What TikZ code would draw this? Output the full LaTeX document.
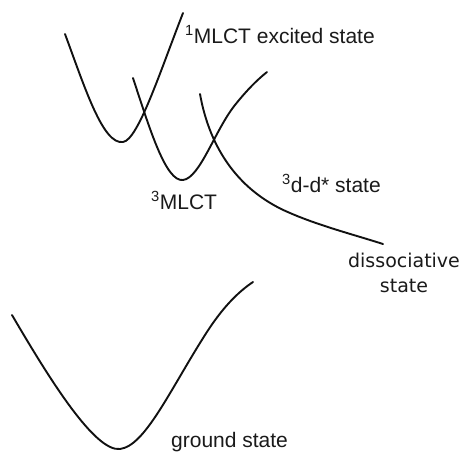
\documentclass[tikz,border=0pt]{standalone}
\usepackage{fontspec}
\setmainfont{Liberation Sans}
\newfontfamily\handfont{DejaVu Sans}
\usepackage{tikz}
\usepackage{xcolor}
\usetikzlibrary{positioning, calc}
\definecolor{cCurve}{HTML}{111111}
\definecolor{cLabel}{HTML}{1A1A1A}

\begin{document}
\begin{tikzpicture}[x=1pt, y=-1pt,
    potential/.style={draw=cCurve, line width=1.9pt, line cap=round},
    statelabel/.style={font=\fontsize{21}{25}\selectfont, text=cLabel, inner sep=0pt},
    handlabel/.style={font=\handfont\fontsize{19}{25}\selectfont, text=cLabel, inner sep=0pt, align=center}]
  \useasboundingbox (0,0) rectangle (463,453);
  % 1MLCT
  \draw[potential] (65,34) .. controls (85,88) and (103,145) .. (123,142)
                   .. controls (138,140) and (160,72) .. (183,13);
  % 3MLCT
  \draw[potential] (133,78) .. controls (150,130) and (166,182) .. (183,180)
                   .. controls (200,178) and (215,130) .. (235,105)
                   .. controls (247,90) and (257,80) .. (267,72);
  % 3d-d*
  \draw[potential] (200,94) .. controls (210,150) and (240,192) .. (290,213)
                   .. controls (320,226) and (355,235) .. (383,244);
  % ground state
  \draw[potential] (12,315) .. controls (50,380) and (95,452) .. (120,449)
                   .. controls (145,446) and (170,390) .. (205,335)
                   .. controls (222,308) and (238,292) .. (253,282);
  % labels
  \node[statelabel, anchor=base west] (singlet) at (185,43) {\textsuperscript{1}MLCT excited state};
  \node[statelabel, anchor=base west] (triplet) at (151,209) {\textsuperscript{3}MLCT};
  \node[statelabel, anchor=base west] (metal) at (282,192) {\textsuperscript{3}d-d* state};
  \node[handlabel, anchor=north] (dissoc) at (404,253) {dissociative\\state};
  \node[statelabel, anchor=base west] (ground) at (171,447) {ground state};
\end{tikzpicture}
\end{document}
